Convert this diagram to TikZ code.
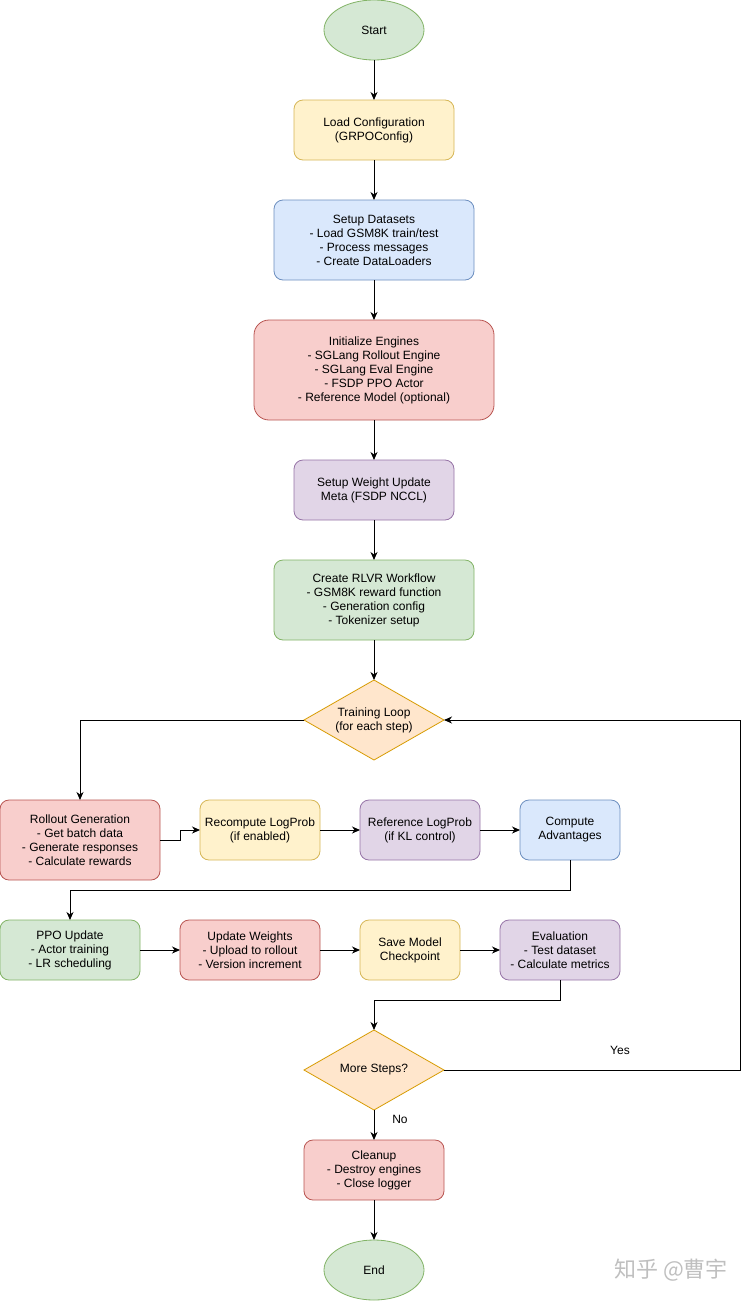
\documentclass[tikz,border=0pt]{standalone}
\usepackage{fontspec}
\setmainfont{Liberation Sans}
\newfontfamily\cjk{Noto Sans CJK SC}
\usetikzlibrary{arrows.meta, shapes.geometric}
\definecolor{greenFill}{HTML}{D5E8D4}
\definecolor{greenLine}{HTML}{82B366}
\definecolor{yellowFill}{HTML}{FFF2CC}
\definecolor{yellowLine}{HTML}{D6B656}
\definecolor{blueFill}{HTML}{DAE8FC}
\definecolor{blueLine}{HTML}{6C8EBF}
\definecolor{redFill}{HTML}{F8CECC}
\definecolor{redLine}{HTML}{B85450}
\definecolor{purpleFill}{HTML}{E1D5E7}
\definecolor{purpleLine}{HTML}{9673A6}
\definecolor{orangeFill}{HTML}{FFE6CC}
\definecolor{orangeLine}{HTML}{D79B00}

\tikzset{
  box/.style={rectangle, rounded corners=9pt, draw, line width=0.8pt, align=center,
    inner sep=2pt, outer sep=0pt, font=\fontsize{12}{14}\selectfont},
  greenbox/.style={box, fill=greenFill, draw=greenLine},
  yellowbox/.style={box, fill=yellowFill, draw=yellowLine},
  bluebox/.style={box, fill=blueFill, draw=blueLine},
  redbox/.style={box, fill=redFill, draw=redLine},
  purplebox/.style={box, fill=purpleFill, draw=purpleLine},
  terminal/.style={ellipse, draw=greenLine, fill=greenFill, line width=0.8pt,
    minimum width=100pt, minimum height=60pt, inner sep=0pt, outer sep=0pt,
    font=\fontsize{12}{14}\selectfont},
  decision/.style={diamond, aspect=1.75, draw=orangeLine, fill=orangeFill, line width=0.8pt,
    minimum width=140pt, minimum height=80pt, inner sep=0pt, outer sep=0pt, align=center,
    font=\fontsize{12}{14}\selectfont},
  arrow/.style={-{Stealth[length=8pt, width=7pt, inset=2.5pt]}, line width=1pt},
  edgelabel/.style={font=\fontsize{12}{14}\selectfont}
}

\begin{document}
\begin{tikzpicture}[x=1pt, y=-1pt]
  \useasboundingbox (0,0) rectangle (749,1301);
  % Main column
  \node[terminal] (start) at (374,30) {Start};
  \node[yellowbox, minimum width=160pt, minimum height=60pt] (config) at (374,130)
    {Load Configuration\\(GRPOConfig)};
  \node[bluebox, minimum width=200pt, minimum height=80pt] (data) at (374,240)
    {Setup Datasets\\- Load GSM8K train/test\\- Process messages\\- Create DataLoaders};
  \node[redbox, rounded corners=15pt, minimum width=240pt, minimum height=100pt] (engines) at (374,370)
    {Initialize Engines\\- SGLang Rollout Engine\\- SGLang Eval Engine\\- FSDP PPO Actor\\- Reference Model (optional)};
  \node[purplebox, minimum width=160pt, minimum height=60pt] (weightmeta) at (374,490)
    {Setup Weight Update\\Meta (FSDP NCCL)};
  \node[greenbox, minimum width=200pt, minimum height=80pt] (workflow) at (374,600)
    {Create RLVR Workflow\\- GSM8K reward function\\- Generation config\\- Tokenizer setup};
  \node[decision] (loop) at (374,720) {Training Loop\\(for each step)};
  % First row of the loop
  \node[redbox, minimum width=160pt, minimum height=80pt] (rollout) at (80,840)
    {Rollout Generation\\- Get batch data\\- Generate responses\\- Calculate rewards};
  \node[yellowbox, minimum width=120pt, minimum height=60pt] (recompute) at (260,830)
    {Recompute LogProb\\(if enabled)};
  \node[purplebox, minimum width=120pt, minimum height=60pt] (reflogp) at (420,830)
    {Reference LogProb\\(if KL control)};
  \node[bluebox, minimum width=100pt, minimum height=60pt] (adv) at (570,830)
    {Compute\\Advantages};
  % Second row of the loop
  \node[greenbox, minimum width=140pt, minimum height=60pt] (ppo) at (70,950)
    {PPO Update\\- Actor training\\- LR scheduling};
  \node[redbox, minimum width=140pt, minimum height=60pt] (update) at (250,950)
    {Update Weights\\- Upload to rollout\\- Version increment};
  \node[yellowbox, minimum width=100pt, minimum height=60pt] (save) at (410,950)
    {Save Model\\Checkpoint};
  \node[purplebox, minimum width=120pt, minimum height=60pt] (eval) at (560,950)
    {Evaluation\\- Test dataset\\- Calculate metrics};
  % Exit
  \node[decision] (more) at (374,1070) {More Steps?};
  \node[redbox, minimum width=140pt, minimum height=60pt] (cleanup) at (374,1170)
    {Cleanup\\- Destroy engines\\- Close logger};
  \node[terminal] (end) at (374,1270) {End};
  % Watermark
  \node[text=gray!50, font=\cjk\fontsize{22}{22}\selectfont] (mark) at (671,1270) {知乎 @曹宇};

  % Connectors
  \draw[arrow] (start) -- (config);
  \draw[arrow] (config) -- (data);
  \draw[arrow] (data) -- (engines);
  \draw[arrow] (engines) -- (weightmeta);
  \draw[arrow] (weightmeta) -- (workflow);
  \draw[arrow] (workflow) -- (loop);
  \draw[arrow] (loop.west) -| (rollout.north);
  \draw[arrow] (rollout.east) -- ++(20,0) |- (recompute.west);
  \draw[arrow] (recompute) -- (reflogp);
  \draw[arrow] (reflogp) -- (adv);
  \draw[arrow] (adv.south) -- ++(0,30) -| (ppo.north);
  \draw[arrow] (ppo) -- (update);
  \draw[arrow] (update) -- (save);
  \draw[arrow] (save) -- (eval);
  \draw[arrow] (eval.south) -- ++(0,20) -| (more.north);
  \draw[arrow] (more.east) -- ++(296,0) |- (loop.east);
  \node[edgelabel] (yes) at (620,1050) {Yes};
  \draw[arrow] (more.south) -- (cleanup.north);
  \node[edgelabel] (no) at (400,1119) {No};
  \draw[arrow] (cleanup) -- (end);
\end{tikzpicture}
\end{document}
